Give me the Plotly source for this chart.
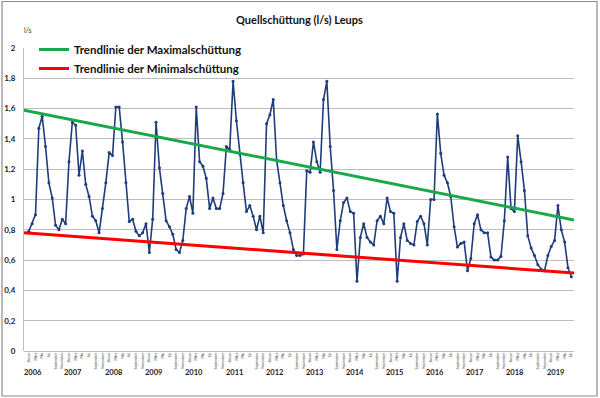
import plotly.graph_objects as go

# ---------------- data ----------------
YEARS = list(range(2006, 2020))
MONTHS = ["Januar", "Februar", "März", "April", "Mai", "Juni", "Juli",
          "August", "September", "Oktober", "November", "Dezember"]

Q_2006 = [0.79, 0.84, 0.90, 1.47, 1.55, 1.35, 1.11, 1.01, 0.83, 0.80, 0.87, 0.84]
Q_2007 = [1.25, 1.51, 1.49, 1.16, 1.32, 1.10, 1.02, 0.89, 0.86, 0.78, 0.94, 1.11]
Q_2008 = [1.31, 1.29, 1.61, 1.61, 1.38, 1.11, 0.855, 0.87, 0.79, 0.76, 0.78, 0.84]
Q_2009 = [0.65, 0.87, 1.51, 1.21, 1.04, 0.86, 0.82, 0.77, 0.67, 0.65, 0.73, 0.94]
Q_2010 = [1.02, 0.91, 1.61, 1.25, 1.22, 1.14, 0.94, 1.01, 0.94, 0.94, 1.04, 1.35]
Q_2011 = [1.33, 1.78, 1.52, 1.30, 1.11, 0.92, 0.96, 0.89, 0.80, 0.89, 0.78, 1.50]
Q_2012 = [1.56, 1.66, 1.26, 1.11, 0.96, 0.86, 0.78, 0.67, 0.63, 0.63, 0.64, 1.19]
Q_2013 = [1.18, 1.38, 1.25, 1.18, 1.66, 1.78, 1.35, 1.06, 0.67, 0.86, 0.98, 1.01]
Q_2014 = [0.92, 0.91, 0.46, 0.75, 0.84, 0.75, 0.72, 0.70, 0.86, 0.89, 0.84, 1.01]
Q_2015 = [0.92, 0.91, 0.46, 0.75, 0.84, 0.73, 0.71, 0.70, 0.855, 0.89, 0.84, 0.70]
Q_2016 = [1.00, 1.00, 1.565, 1.305, 1.16, 1.11, 1.02, 0.82, 0.686, 0.71, 0.72, 0.53]
Q_2017 = [0.61, 0.84, 0.90, 0.80, 0.78, 0.78, 0.62, 0.60, 0.60, 0.625, 0.86, 1.28]
Q_2018 = [0.94, 0.92, 1.42, 1.25, 1.06, 0.76, 0.68, 0.63, 0.57, 0.54, 0.53, 0.63]
Q_2019 = [0.69, 0.73, 0.96, 0.80, 0.72, 0.55, 0.49]

TREND_MAX = [1.59, 0.865]   # Trendlinie der Maximalschüttung (start, end)
TREND_MIN = [0.78, 0.515]   # Trendlinie der Minimalschüttung (start, end)

Y_TICKS = [0, 0.2, 0.4, 0.6, 0.8, 1.0, 1.2, 1.4, 1.6, 1.8, 2.0]

# ---------------- build ----------------
values = (Q_2006 + Q_2007 + Q_2008 + Q_2009 + Q_2010 + Q_2011 + Q_2012 +
          Q_2013 + Q_2014 + Q_2015 + Q_2016 + Q_2017 + Q_2018 + Q_2019)
n = len(values)
x_idx = list(range(n))
tick_idx = x_idx[::2]
month_labels = [MONTHS[i % 12] for i in tick_idx]
X_RANGE = [-1.43, n - 1 + 0.8]

NAVY = "#1f3d7a"
FONT = "Lato"

PLOT_L, PLOT_R, PLOT_T, PLOT_B = 24, 574, 48, 351
PW, PH = PLOT_R - PLOT_L, PLOT_B - PLOT_T


def px(X):
    return (X - PLOT_L) / PW


def py(Y):
    return (PLOT_B - Y) / PH


fig = go.Figure()
fig.add_trace(go.Scatter(
    x=x_idx, y=values, mode="lines+markers",
    line=dict(color=NAVY, width=1.6),
    marker=dict(color=NAVY, size=3),
    showlegend=False, hoverinfo="skip"))
fig.add_trace(go.Scatter(
    x=X_RANGE, y=TREND_MAX, mode="lines",
    line=dict(color="#1aa84a", width=3),
    name="Trendlinie der Maximalschüttung"))
fig.add_trace(go.Scatter(
    x=X_RANGE, y=TREND_MIN, mode="lines",
    line=dict(color="#ff0000", width=3),
    name="Trendlinie der Minimalschüttung"))

# year labels
for k, yr in enumerate(YEARS):
    fig.add_annotation(x=12 * k + 1.3, y=py(372), xref="x", yref="paper",
                       text=str(yr), showarrow=False,
                       font=dict(family=FONT, size=7.5, color="#222", weight="bold"),
                       xanchor="center", yanchor="middle")

# title and unit
fig.add_annotation(x=0.5, y=py(19), xref="paper", yref="paper", yanchor="middle",
                   xanchor="center", showarrow=False,
                   text="Quellschüttung (l/s) Leups",
                   font=dict(family=FONT, size=11, color="#111", weight="bold"))
fig.add_annotation(x=px(22), y=py(24), xref="paper", yref="paper", showarrow=False,
                   text="l/s", font=dict(family=FONT, size=7, color="#333"))

# white legend area hiding the top grid line
fig.add_shape(type="rect", xref="paper", yref="paper",
              x0=px(36), x1=px(515), y0=py(74), y1=py(36),
              fillcolor="white", line=dict(width=0), layer="between")
# outer frame
fig.add_shape(type="rect", xref="paper", yref="paper",
              x0=px(2), x1=px(597), y0=py(396), y1=py(1.5),
              fillcolor="rgba(0,0,0,0)", line=dict(color="#8c8c8c", width=1.2),
              layer="above")

fig.update_layout(
    width=600, height=398,
    margin=dict(l=PLOT_L, r=600 - PLOT_R, t=PLOT_T, b=398 - PLOT_B, autoexpand=False),
    paper_bgcolor="white", plot_bgcolor="white",
    separators=", ",
    font=dict(family=FONT),
    showlegend=True,
    legend=dict(x=px(34), y=py(35), xanchor="left", yanchor="top",
                bgcolor="rgba(0,0,0,0)", borderwidth=0,
                font=dict(family=FONT, size=11.5, color="#111", weight="bold"),
                tracegroupgap=0, itemwidth=30),
    xaxis=dict(range=X_RANGE, tickmode="array", tickvals=tick_idx, ticktext=month_labels,
               tickangle=-90, tickfont=dict(family=FONT, size=3.5, color="#444"),
               showgrid=False, zeroline=False, showline=False, ticks="",
               automargin=False, fixedrange=True),
    yaxis=dict(range=[0, 2.0], tickmode="array", tickvals=Y_TICKS,
               tickfont=dict(family=FONT, size=8, color="#222", weight="bold"),
               showgrid=True, gridcolor="#bdbdbd", gridwidth=1,
               zeroline=True, zerolinecolor="#bdbdbd", zerolinewidth=1,
               showline=True, linecolor="#bdbdbd", linewidth=1,
               ticks="", ticklabelstandoff=6, automargin=False, fixedrange=True),
)

fig.write_html("out.html",
               config={"displayModeBar": False},
               post_script="document.body.style.margin='0px';"
                           "document.body.style.padding='0px';")
